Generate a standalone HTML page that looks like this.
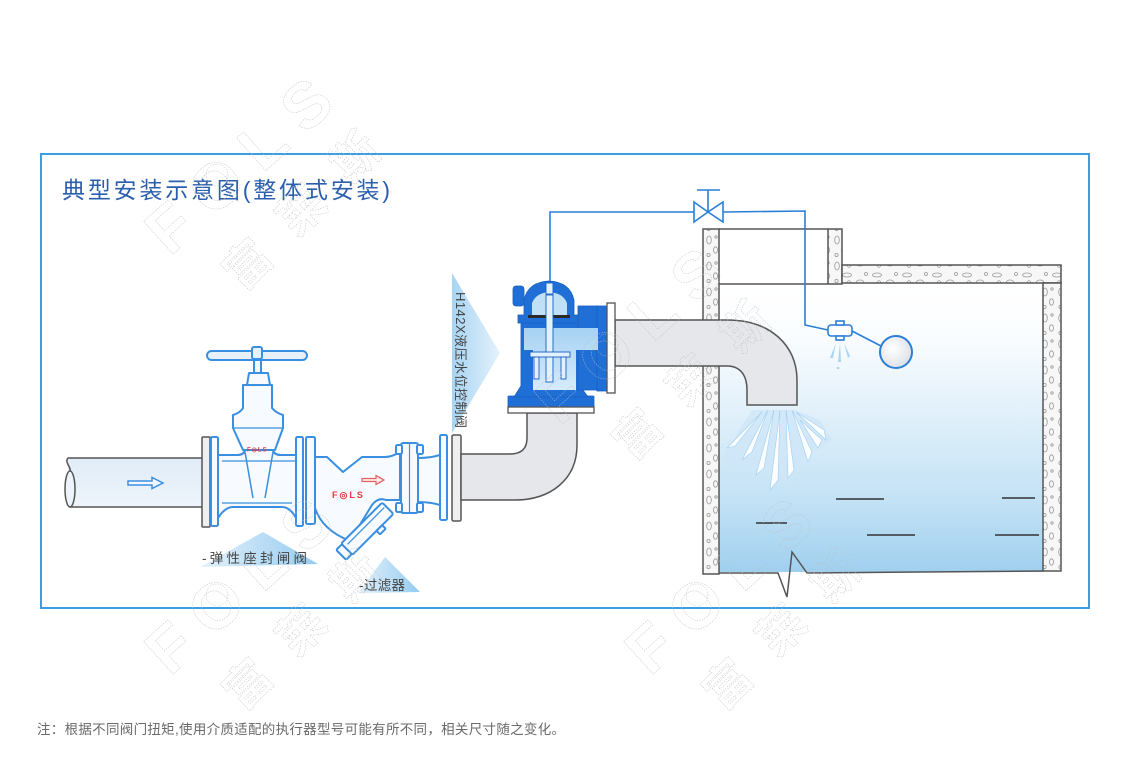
<!DOCTYPE html>
<html><head><meta charset="utf-8">
<style>
html,body{margin:0;padding:0;background:#fff;}
svg{display:block;}
</style></head>
<body>
<svg width="1126" height="776" viewBox="0 0 1126 776" xmlns="http://www.w3.org/2000/svg">
<defs>
 <linearGradient id="water" x1="0" y1="284" x2="0" y2="572" gradientUnits="userSpaceOnUse">
  <stop offset="0" stop-color="#ffffff"/>
  <stop offset="0.18" stop-color="#fafdff"/>
  <stop offset="0.45" stop-color="#e1f0fa"/>
  <stop offset="0.75" stop-color="#c3e2f5"/>
  <stop offset="1" stop-color="#a0d0ef"/>
 </linearGradient>
 <linearGradient id="triH" x1="0" y1="0" x2="1" y2="0">
  <stop offset="0" stop-color="#a8d4f2"/>
  <stop offset="1" stop-color="#e4f2fc"/>
 </linearGradient>
 <linearGradient id="triG" x1="0" y1="0" x2="1" y2="0">
  <stop offset="0" stop-color="#e4f2fc"/>
  <stop offset="1" stop-color="#94cbef"/>
 </linearGradient>
 <linearGradient id="cav" x1="0" y1="0" x2="0" y2="1">
  <stop offset="0" stop-color="#a6d2f3"/>
  <stop offset="1" stop-color="#d6ebfa"/>
 </linearGradient>
 <radialGradient id="ball" cx="0.4" cy="0.4" r="0.7">
  <stop offset="0" stop-color="#ffffff"/>
  <stop offset="1" stop-color="#d8dde4"/>
 </radialGradient>
 <linearGradient id="lpipe" x1="0" y1="0" x2="0" y2="1">
  <stop offset="0" stop-color="#e0ecf8"/>
  <stop offset="1" stop-color="#eef4fb"/>
 </linearGradient>
 <pattern id="dv" width="16" height="26" patternUnits="userSpaceOnUse">
  <rect width="16" height="26" fill="#f7f7f7"/>
  <g fill="none" stroke="#9a9a9a" stroke-width="0.8">
   <ellipse cx="5" cy="6" rx="2.3" ry="4"/>
   <ellipse cx="11.5" cy="16" rx="2" ry="3.2"/>
   <ellipse cx="4.5" cy="21" rx="1.6" ry="1.6"/>
   <ellipse cx="12" cy="3" rx="1.2" ry="1.2"/>
  </g>
 </pattern>
 <pattern id="dh" width="30" height="18" patternUnits="userSpaceOnUse">
  <rect width="30" height="18" fill="#f7f7f7"/>
  <g fill="none" stroke="#9a9a9a" stroke-width="0.8">
   <ellipse cx="7" cy="5" rx="4.5" ry="2"/>
   <ellipse cx="20" cy="12" rx="3.5" ry="2"/>
   <ellipse cx="26" cy="4" rx="1.5" ry="1.5"/>
   <ellipse cx="9" cy="13" rx="1.6" ry="2.4"/>
  </g>
 </pattern>
</defs>

<!-- frame -->
<rect x="41" y="154" width="1048" height="454" fill="none" stroke="#3a9fe2" stroke-width="2"/>

<!-- title -->
<text x="62" y="198" font-family="'Liberation Sans','Noto Sans CJK SC',sans-serif" font-size="23" fill="#2b5fae" textLength="328" lengthAdjust="spacing">典型安装示意图(整体式安装)</text>

<!-- label triangles -->
<polygon points="452,273 500,353 452,433" fill="url(#triH)"/>
<polygon points="263,532 318,564 200,567" fill="url(#triG)"/>
<polygon points="385,557 420,592 358,593" fill="url(#triG)"/>

<!-- tank water -->
<rect x="719" y="284" width="324" height="288" fill="url(#water)"/>

<!-- spray under pipe -->
<g>
 <path d="M752,410 L722,458 L735,470 L760,470 L790,490 L800,460 L832,440 L820,420 L795,410 Z" fill="#cde6f8" opacity="0.7"/>
 <g fill="#ffffff" stroke="#9ccff1" stroke-width="0.6" opacity="0.95">
  <path d="M768,410 L742,460 L752,452 Z"/>
  <path d="M774,410 L756,475 L764,468 Z"/>
  <path d="M780,410 L770,490 L778,480 Z"/>
  <path d="M786,410 L788,478 L794,470 Z"/>
  <path d="M792,410 L808,462 L812,452 Z"/>
  <path d="M796,412 L826,440 L824,430 Z"/>
  <path d="M762,412 L727,448 L735,446 Z"/>
  <path d="M800,420 L818,448 L822,440 Z"/>
 </g>
</g>
<!-- pilot spray -->
<g fill="#a9d4f2">
 <path d="M836,343 L830,358 L833,358 Z"/>
 <path d="M840,343 L838,362 L841,362 Z"/>
 <path d="M844,343 L848,358 L850,356 Z"/>
 <ellipse cx="838" cy="368" rx="1.5" ry="1"/>
</g>

<!-- water level dashes -->
<g stroke="#333" stroke-width="1.5">
 <line x1="836" y1="499" x2="884" y2="499"/>
 <line x1="1002" y1="498" x2="1035" y2="498"/>
 <line x1="756" y1="523" x2="787" y2="523"/>
 <line x1="867" y1="535" x2="915" y2="535"/>
 <line x1="995" y1="535" x2="1039" y2="535"/>
</g>

<!-- tank walls -->
<g stroke="#555" stroke-width="1.5">
 <rect x="703" y="229" width="16" height="345" fill="url(#dv)"/>
 <rect x="828" y="229" width="14" height="55" fill="url(#dv)"/>
 <rect x="842" y="265" width="219" height="18" fill="url(#dh)"/>
 <rect x="1043" y="283" width="18" height="288" fill="url(#dv)"/>
 <line x1="719" y1="229" x2="828" y2="229"/>
 <line x1="719" y1="284" x2="828" y2="284"/>
 <polyline points="719,573 778,573 787,597 792,552 807,573 1043,571" fill="none"/>
</g>

<!-- control line -->
<g stroke="#2a7fd6" stroke-width="1.6" fill="none">
 <polyline points="550,284 550,212 694,212"/>
 <polyline points="723,212 805,211 805,325 828,330"/>
 <line x1="852" y1="331" x2="881" y2="346"/>
 <line x1="708" y1="212" x2="708" y2="190"/>
 <line x1="697" y1="190" x2="720" y2="190"/>
</g>
<polygon points="694,202 694,222 708,212" fill="#fff" stroke="#2a7fd6" stroke-width="1.6"/>
<polygon points="723,202 723,222 708,212" fill="#fff" stroke="#2a7fd6" stroke-width="1.6"/>
<!-- pilot valve -->
<g fill="#fff" stroke="#2a7fd6" stroke-width="1.6">
 <rect x="828" y="325" width="24" height="11" rx="3"/>
 <rect x="836" y="321" width="8" height="4"/>
 <rect x="836" y="336" width="8" height="4"/>
</g>
<circle cx="896" cy="352" r="16" fill="url(#ball)" stroke="#2a7fd6" stroke-width="2"/>

<!-- pipe from control valve to tank -->
<path d="M615,320 L727,320 C770,320 797,345 797,380 L797,405 L747,405 L747,390 C747,375 740,366 727,366 L615,366 Z" fill="#e6e7eb" stroke="#555" stroke-width="1.5"/>

<!-- left pipe -->
<path d="M68,458 L202,458 L202,507 L70,507 Z" fill="url(#lpipe)" stroke="none"/>
<path d="M202,458 L68,458 C64,462 72,468 70,472 M70,507 L202,507" fill="none" stroke="#555" stroke-width="1.5"/>
<ellipse cx="70" cy="489" rx="5" ry="18" fill="#eef4fb" stroke="#555" stroke-width="1.5"/>
<path d="M128,481 L152,481 L152,477.5 L163,483 L152,488.5 L152,485 L128,485 Z" fill="#f3f8fe" stroke="#3a8fe0" stroke-width="1.5"/>
<rect x="202" y="437" width="8" height="90" rx="1" fill="#efefef" stroke="#555" stroke-width="1.5"/>

<!-- gate valve -->
<g stroke="#3a8fe0" stroke-width="2" fill="#f7fbff" stroke-linejoin="round">
 <rect x="211" y="437" width="7" height="89" rx="1.5"/>
 <path d="M218,455 L237,455 Q244,455 245,450 L273,450 Q274,455 281,455 L296,455 L296,518 Q290,507 282,507 L233,507 Q225,507 218,518 Z"/>
 <path d="M222,461 L296,461 M222,503 L292,503" fill="none" stroke-width="1.2"/>
 <path d="M233,415 Q240,413 243,408 L243,385 L272,385 L272,408 Q276,413 283,415 L283,428 L275,450 L243,450 L233,428 Z"/>
 <line x1="233" y1="428" x2="283" y2="428" stroke-width="1.3"/>
 <line x1="245" y1="452" x2="253" y2="498" stroke-width="1.5"/>
 <line x1="273" y1="452" x2="265" y2="498" stroke-width="1.5"/>
 <path d="M249,373 L268,373 L270,385 L247,385 Z"/>
 <rect x="254" y="360" width="7" height="13"/>
 <rect x="207" y="351" width="100" height="9" rx="4.5" fill="#e6f1fc"/>
 <rect x="252" y="347" width="10" height="12" rx="2" fill="#e6f1fc"/>
 <rect x="296" y="437" width="7" height="89" rx="1.5"/>
</g>
<text x="247" y="451.5" font-family="'Liberation Sans',sans-serif" font-weight="bold" font-size="6" fill="#e03a3a" letter-spacing="1">F◎LS</text>

<!-- strainer -->
<g stroke="#3a8fe0" stroke-width="2" fill="#f7fbff" stroke-linejoin="round">
 <path d="M315,457 L327,457 L343,472 L362,457 L385,457 Q392,457 400,452 L400,500 L386,500 Q378,497 372,505 L350,541 Q322,530 315,508 Z"/>
 <g transform="translate(368,528) rotate(-45)">
  <rect x="-30" y="-8" width="58" height="16" rx="2"/>
  <line x1="-26" y1="-3" x2="26" y2="-3" stroke-width="1.2"/>
  <rect x="-38" y="-7" width="8" height="14" rx="1.5"/>
  <rect x="4" y="8" width="8" height="5" rx="1"/>
 </g>
 <rect x="306" y="437" width="9" height="87" rx="1.5"/>
 <rect x="401" y="443" width="17" height="70" rx="2"/>
 <line x1="409.5" y1="443" x2="409.5" y2="513" stroke-width="1.2"/>
 <rect x="396" y="445" width="6" height="9" rx="1.5"/>
 <rect x="417" y="445" width="6" height="9" rx="1.5"/>
 <rect x="396" y="503" width="6" height="9" rx="1.5"/>
 <rect x="417" y="503" width="6" height="9" rx="1.5"/>
 <path d="M418,458 Q430,458 440,455 L440,505 Q430,502 418,502 Z"/>
 <rect x="440" y="435" width="7" height="85" rx="1.5"/>
</g>
<text x="332" y="498" font-family="'Liberation Sans',sans-serif" font-weight="bold" font-size="9" fill="#e03a3a" letter-spacing="2">F◎LS</text>
<path d="M362,478.5 L376,478.5 L376,475.5 L384,480 L376,484.5 L376,481.5 L362,481.5 Z" fill="#fdeaea" stroke="#e86060" stroke-width="1.2"/>
<rect x="452" y="435" width="9" height="86" rx="1.5" fill="#efefef" stroke="#555" stroke-width="1.5"/>

<!-- elbow under control valve -->
<path d="M461,454 L510,454 Q527,454 527,438 L527,413 L577,413 L577,445 C577,480 550,500 515,500 L461,500 Z" fill="#e6e7eb" stroke="#555" stroke-width="1.5"/>

<!-- control valve -->
<g fill="#1f6fd6" stroke="#1a5fc0" stroke-width="0.8">
 <rect x="508" y="396" width="86" height="11" rx="1"/>
 <path d="M514,397 L521,386 L521,322 L580,322 L580,386 L588,397 Z"/>
 <path d="M518,323 L518,315 L524,315 L524,300 Q528,282 549,281 Q570,282 574,300 L574,315 L580,315 L580,323 Z"/>
 <rect x="513" y="286" width="11" height="20" rx="3"/>
 <rect x="578" y="306" width="20" height="84"/>
 <rect x="597" y="306" width="10" height="85"/>
</g>
<path d="M524,328 L598,328 L598,350 L576,350 L576,390 L533,390 L533,350 L524,350 Z" fill="url(#cav)"/>
<path d="M532,316 L532,303 Q536,293 549,292 Q563,293 567,303 L567,316 Z" fill="#bfe0f7"/>
<rect x="528" y="315" width="42" height="3" fill="#2a2a2a"/>
<g fill="#e2f1fc" stroke="#1a5fc0" stroke-width="0.9">
 <rect x="546" y="295" width="7" height="87"/>
 <rect x="530" y="352" width="40" height="5"/>
 <rect x="534" y="357" width="5" height="22"/>
 <rect x="561" y="357" width="5" height="22"/>
 <rect x="546" y="283" width="7" height="11"/>
</g>
<rect x="607" y="303" width="8" height="90" fill="#fff" stroke="#555" stroke-width="1.3"/>
<rect x="508" y="407" width="86" height="6" fill="#fff" stroke="#555" stroke-width="1.3"/>

<!-- labels -->
<text transform="translate(456,292) rotate(90)" font-family="'Liberation Sans','Noto Sans CJK SC',sans-serif" font-size="13" fill="#444" textLength="136" lengthAdjust="spacing">H142X液压水位控制阀</text>
<text x="202" y="563" font-family="'Liberation Sans','Noto Sans CJK SC',sans-serif" font-size="13.5" fill="#444" textLength="105" lengthAdjust="spacing">-弹性座封闸阀</text>
<text x="359" y="590" font-family="'Liberation Sans','Noto Sans CJK SC',sans-serif" font-size="13.5" fill="#444" textLength="46" lengthAdjust="spacing">-过滤器</text>

<!-- watermarks -->
<g fill="none" stroke="#bdbdbd" stroke-width="0.5" stroke-dasharray="1.4 1.2" font-weight="bold">
 <text transform="translate(170,257) rotate(-42)" font-family="'Liberation Sans',sans-serif" font-size="64" letter-spacing="18">FOLS</text>
 <text transform="translate(243,292) rotate(-45)" font-family="'Noto Sans CJK SC',sans-serif" font-size="46" letter-spacing="30">富莱斯</text>
 <circle cx="217" cy="175" r="11"/>
 <text transform="translate(560,427) rotate(-42)" font-family="'Liberation Sans',sans-serif" font-size="64" letter-spacing="18">FOLS</text>
 <text transform="translate(633,462) rotate(-45)" font-family="'Noto Sans CJK SC',sans-serif" font-size="46" letter-spacing="30">富莱斯</text>
 <circle cx="607" cy="345" r="11"/>
 <text transform="translate(170,677) rotate(-42)" font-family="'Liberation Sans',sans-serif" font-size="64" letter-spacing="18">FOLS</text>
 <text transform="translate(243,712) rotate(-45)" font-family="'Noto Sans CJK SC',sans-serif" font-size="46" letter-spacing="30">富莱斯</text>
 <circle cx="217" cy="595" r="11"/>
 <text transform="translate(650,677) rotate(-42)" font-family="'Liberation Sans',sans-serif" font-size="64" letter-spacing="18">FOLS</text>
 <text transform="translate(723,712) rotate(-45)" font-family="'Noto Sans CJK SC',sans-serif" font-size="46" letter-spacing="30">富莱斯</text>
 <circle cx="697" cy="595" r="11"/>
</g>

<!-- footer note -->
<text x="37" y="734" font-family="'Liberation Sans','Noto Sans CJK SC',sans-serif" font-size="13.5" fill="#6a6a6a" textLength="528" lengthAdjust="spacing">注：根据不同阀门扭矩,使用介质适配的执行器型号可能有所不同，相关尺寸随之变化。</text>
</svg>
</body></html>
